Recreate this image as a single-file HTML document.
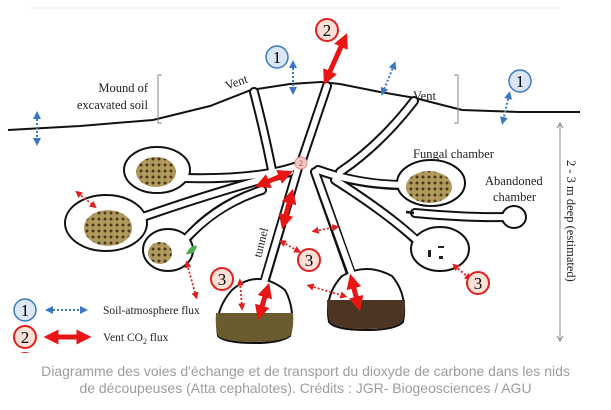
<!DOCTYPE html>
<html><head><meta charset="utf-8"><style>
html,body{margin:0;padding:0;background:#fff;width:611px;height:410px;overflow:hidden}
svg{position:absolute;left:0;top:0}
.cap{position:absolute;left:0;top:363px;width:611px;text-align:center;font-family:"Liberation Sans",sans-serif;font-size:14px;line-height:17px;color:#9c9c9c}
</style></head><body>
<svg width="611" height="353" viewBox="0 0 611 353" font-family="Liberation Serif,serif">
<defs>
<pattern id="fg" width="6" height="6" patternUnits="userSpaceOnUse"><rect width="6" height="6" fill="#b09a5e"/><circle cx="3" cy="3" r="1.5" fill="#4a3a1c"/></pattern>
<marker id="bh" markerWidth="4" markerHeight="4" refX="2" refY="2" orient="auto-start-reverse"><path d="M0,0L4,2L0,4z" fill="#3b78c4"/></marker>
<marker id="rh" markerWidth="4" markerHeight="4" refX="2" refY="2" orient="auto-start-reverse"><path d="M0,0L4,2L0,4z" fill="#e02020"/></marker>
<marker id="RH" markerWidth="3" markerHeight="3" refX="1.5" refY="1.5" orient="auto-start-reverse"><path d="M0,0L3,1.5L0,3z" fill="#e81515"/></marker>
</defs>
<line x1="30" y1="8" x2="560" y2="8" stroke="#eee"/>
<path d="M8,130 L80,126 L153,120 L210,106 L251,90 L290,84 L321,82 L340,84 L380,92 L415,98 L462,110 L520,112 L580,112" fill="none" stroke="#111" stroke-width="2"/>
<g fill="none" stroke="#111" stroke-width="10" stroke-linecap="round">
<path d="M254,92 Q264,130 272,170"/><path d="M327,86 L301,163"/><path d="M414,101 Q380,145 340,172"/>
<path d="M300,165 Q260,180 185,178"/><path d="M290,172 Q220,190 140,218"/><path d="M262,190 Q215,205 185,240"/>
<path d="M298,168 L262,290"/><path d="M315,172 L354,282"/><path d="M318,170 Q360,185 402,185"/>
<path d="M335,180 Q390,215 418,242"/><path d="M415,213 Q470,218 505,217"/>
</g>
<g fill="#fff" stroke="#111" stroke-width="2">
<ellipse cx="157" cy="170" rx="33" ry="23"/><ellipse cx="106" cy="223" rx="41" ry="28"/><ellipse cx="168" cy="250" rx="25" ry="21"/>
<ellipse cx="431" cy="183" rx="34" ry="23"/><ellipse cx="514" cy="217" rx="12" ry="11"/><ellipse cx="440" cy="249" rx="29" ry="22"/>
<path d="M232,290 Q257,268 285,290 Q296,310 290,336 Q280,343 255,343 Q225,343 218,336 Q214,310 232,290z"/>
<path d="M342,276 Q366,262 392,276 Q408,295 403,322 Q395,330 366,330 Q335,330 329,322 Q324,295 342,276z"/>
</g>
<g fill="none" stroke="#fff" stroke-width="6" stroke-linecap="round">
<path d="M254,92 Q264,130 272,170"/><path d="M327,86 L301,163"/><path d="M414,101 Q380,145 340,172"/>
<path d="M300,165 Q260,180 180,178"/><path d="M290,172 Q220,190 134,220"/><path d="M262,190 Q215,205 181,244"/>
<path d="M298,168 L260,296"/><path d="M315,172 L357,288"/><path d="M318,170 Q360,185 408,185"/>
<path d="M335,180 Q390,215 423,246"/><path d="M415,213 Q470,218 510,217"/>
</g>
<line x1="406" y1="212" x2="414" y2="213" stroke="#111" stroke-width="2.5"/>
<path d="M216,313 L293,313 Q294,330 290,336 Q280,342 255,342 Q226,342 218,336 Q215,328 216,313z" fill="#6b5c30"/>
<path d="M327,300 L405,300 Q405,316 402,322 Q394,329 366,329 Q336,329 330,322 Q327,315 327,300z" fill="#4d3524"/>
<ellipse cx="156" cy="172" rx="20" ry="15" fill="url(#fg)"/><ellipse cx="108" cy="228" rx="24" ry="18" fill="url(#fg)"/>
<ellipse cx="160" cy="253" rx="12" ry="11" fill="url(#fg)"/><ellipse cx="429" cy="187" rx="23" ry="16" fill="url(#fg)"/>
<path d="M186,254 q5,-10 11,-8 q-2,9 -11,8z" fill="#4caf50"/>
<g fill="#222"><rect x="428" y="250" width="3" height="7"/><rect x="438" y="246" width="6" height="2"/><rect x="439" y="256" width="4" height="3"/></g>
<circle cx="301" cy="163" r="6" fill="#f4c8c0" stroke="#d88"/><text x="301" y="166" font-size="8" text-anchor="middle" fill="#a33">2</text>
<g stroke="#3b78c4" stroke-width="2" stroke-dasharray="2,2" marker-start="url(#bh)" marker-end="url(#bh)" fill="none">
<line x1="37" y1="115" x2="37" y2="142"/><line x1="293" y1="64" x2="293" y2="91"/><line x1="394" y1="65" x2="383" y2="92"/><line x1="509" y1="95" x2="503" y2="121"/>
<line x1="49" y1="310" x2="84" y2="310"/>
</g>
<g stroke="#e81515" stroke-width="5" marker-start="url(#RH)" marker-end="url(#RH)">
<line x1="344" y1="40" x2="327" y2="78"/><line x1="262" y1="184" x2="286" y2="174"/><line x1="291" y1="196" x2="284" y2="222"/>
<line x1="267" y1="290" x2="260" y2="313"/><line x1="352" y1="281" x2="358" y2="304"/><line x1="51" y1="337" x2="84" y2="337"/>
</g>
<g stroke="#e02020" stroke-width="1.8" stroke-dasharray="2,2" marker-start="url(#rh)" marker-end="url(#rh)">
<line x1="78" y1="193" x2="94" y2="206"/><line x1="187" y1="264" x2="196" y2="296"/><line x1="282" y1="242" x2="298" y2="251"/>
<line x1="240" y1="282" x2="242" y2="307"/><line x1="315" y1="231" x2="336" y2="227"/>
<line x1="310" y1="286" x2="344" y2="296"/><line x1="455" y1="266" x2="469" y2="278"/>
</g>
<g font-size="17" text-anchor="middle">
<circle cx="277" cy="57" r="11" fill="#dbe6f6" stroke="#3b78c4" stroke-width="1.5"/><text x="277" y="63">1</text>
<circle cx="520" cy="81" r="11" fill="#dbe6f6" stroke="#3b78c4" stroke-width="1.5"/><text x="520" y="87">1</text>
<circle cx="25" cy="310" r="11" fill="#dbe6f6" stroke="#3b78c4" stroke-width="1.5"/><text x="25" y="316">1</text>
<circle cx="327" cy="30" r="11" fill="#fbe0d8" stroke="#e02020" stroke-width="2"/><text x="327" y="36">2</text>
<circle cx="25" cy="337" r="11" fill="#fbe0d8" stroke="#e02020" stroke-width="2"/><text x="25" y="343">2</text>
<circle cx="25" cy="364" r="11" fill="#fbe0d8" stroke="#e02020" stroke-width="2"/>
<circle cx="222" cy="279" r="11" fill="#fbe0d8" stroke="#e02020" stroke-width="2"/><text x="222" y="285">3</text>
<circle cx="309" cy="260" r="11" fill="#fbe0d8" stroke="#e02020" stroke-width="2"/><text x="309" y="266">3</text>
<circle cx="478" cy="283" r="11" fill="#fbe0d8" stroke="#e02020" stroke-width="2"/><text x="478" y="289">3</text>
</g>
<g font-size="12.5" fill="#222">
<text x="148" y="92" text-anchor="end">Mound of</text><text x="148" y="109" text-anchor="end">excavated soil</text>
<text x="227" y="90" transform="rotate(-20 227 90)">Vent</text><text x="413" y="100">Vent</text>
<text x="413" y="158">Fungal chamber</text><text x="485" y="185">Abandoned</text><text x="493" y="201">chamber</text>
<text x="103" y="314" font-size="11.5">Soil-atmosphere  flux</text><text x="103" y="341" font-size="11.5">Vent CO<tspan font-size="8" dy="3">2</tspan><tspan dy="-3"> flux</tspan></text>
<text x="261" y="258" transform="rotate(-76 261 258)" font-size="12">tunnel</text>
<text x="567" y="160" transform="rotate(90 567 160)" font-size="12.5">2 - 3 m deep (estimated)</text>
<text x="292" y="362" font-size="12">Refuse chamber</text>
</g>
<path d="M162,75 h-4 v48 h4 M454,75 h4 v48 h-4" fill="none" stroke="#888"/>
<line x1="560" y1="124" x2="560" y2="340" stroke="#888"/><path d="M557,128 L560,123 L563,128" fill="none" stroke="#888"/><path d="M557,336 L560,341 L563,336" fill="none" stroke="#888"/>
</svg>
<div class="cap">Diagramme des voies d'échange et de transport du dioxyde de carbone dans les nids<br>de découpeuses (Atta cephalotes). Crédits : JGR- Biogeosciences / AGU</div>
</body></html>
